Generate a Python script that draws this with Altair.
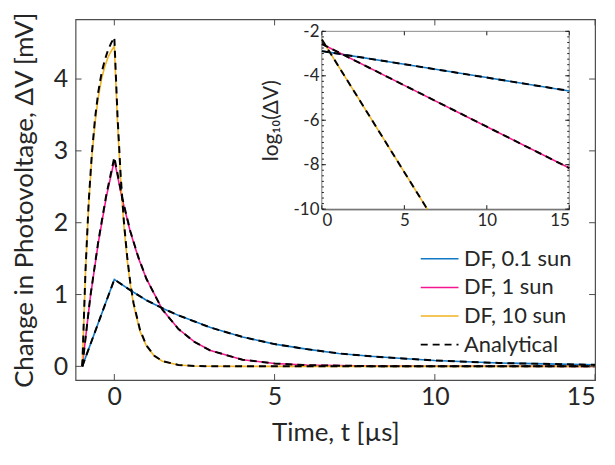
import altair as alt
import pandas as pd

# ---------------- main plot data ----------------
t_rise_01 = [-1.0, 0.0]
v_rise_01 = [0.0, 1.21]

t_rise_1 = [-1.0, -0.75, -0.5, -0.25, 0.0]
v_rise_1_df = [0.0, 0.96, 1.72, 2.36, 2.87]
v_rise_1_an = [0.0, 0.97, 1.74, 2.39, 2.91]

t_rise_10 = [-1.0, -0.9, -0.8, -0.7, -0.6, -0.5, -0.4, -0.3, -0.2, -0.1, 0.0]
v_rise_10_df = [0.0, 1.31, 2.25, 2.92, 3.40, 3.75, 4.00, 4.17, 4.30, 4.39, 4.46]
v_rise_10_an = [0.0, 1.33, 2.29, 2.97, 3.46, 3.82, 4.08, 4.26, 4.40, 4.50, 4.58]

t_dec_01 = [0.5, 1, 1.5, 2, 3, 4, 5, 6, 7, 8, 9, 10, 12, 15]
v_dec_01 = [1.06, 0.92, 0.81, 0.71, 0.54, 0.41, 0.31, 0.24, 0.18, 0.14, 0.11, 0.081, 0.047, 0.021]

t_dec_1 = [0.25, 0.5, 0.75, 1, 1.5, 2, 2.5, 3, 4, 5, 6, 8, 10, 15]
v_dec_1_df = [2.32, 1.87, 1.51, 1.22, 0.79, 0.52, 0.34, 0.22, 0.093, 0.040, 0.017, 0.003, 0.001, 0.0]
v_dec_1_an = [2.34, 1.88, 1.52, 1.22, 0.79, 0.52, 0.34, 0.22, 0.093, 0.040, 0.017, 0.003, 0.001, 0.0]

t_dec_10 = [0.1, 0.2, 0.3, 0.4, 0.5, 0.6, 0.8, 1.0, 1.25, 1.5, 2, 2.5, 3, 4, 15]
v_dec_10_df = [3.39, 2.57, 1.95, 1.49, 1.13, 0.86, 0.49, 0.285, 0.143, 0.072, 0.018, 0.005, 0.001, 0.0, 0.0]
v_dec_10_an = [3.48, 2.64, 2.01, 1.53, 1.16, 0.88, 0.51, 0.293, 0.147, 0.074, 0.019, 0.005, 0.001, 0.0, 0.0]

# ---------------- inset data: log10(dV) ----------------
inset_t = [0, 5, 10, 15]
inset_01 = [-2.89, -3.48, -4.08, -4.68]
inset_1 = [-2.57, -4.43, -6.29, -8.15]
inset_t_10 = [0, 3, 6.39]
inset_10 = [-2.37, -5.95, -10.0]

df_labels = ["DF, 0.1 sun", "DF, 1 sun", "DF, 10 sun"]
df_colors = ["#1079C6", "#F5158F", "#F0B323"]
an_label = "Analytical"

main_xticks = [0, 5, 10, 15]
main_yticks = [0, 1, 2, 3, 4]
inset_xticks = [0, 5, 10, 15]
inset_yticks = [-10, -8, -6, -4, -2]
inset_minor = [-10 + 0.25 * i for i in range(33)]


def series(ts, vs, curve, legend):
    return pd.DataFrame({"t": ts, "v": vs, "curve": curve, "legend": legend})


L01, L1, L10 = df_labels
LA = an_label
main_df = pd.concat([
    series(t_rise_01 + t_dec_01, v_rise_01 + v_dec_01, "c01", L01),
    series(t_rise_1 + t_dec_1, v_rise_1_df + v_dec_1_df, "c1", L1),
    series(t_rise_10 + t_dec_10, v_rise_10_df + v_dec_10_df, "c10", L10),
])
main_an = pd.concat([
    series(t_rise_01 + t_dec_01, v_rise_01 + v_dec_01, "c01", LA),
    series(t_rise_1 + t_dec_1, v_rise_1_an + v_dec_1_an, "c1", LA),
    series(t_rise_10 + t_dec_10, v_rise_10_an + v_dec_10_an, "c10", LA),
])
inset_df = pd.concat([
    series(inset_t, inset_01, "c01", L01),
    series(inset_t, inset_1, "c1", L1),
    series(inset_t_10, inset_10, "c10", L10),
])
inset_an = pd.concat([
    series(inset_t, inset_01, "c01", LA),
    series(inset_t, inset_1, "c1", LA),
    series(inset_t_10, inset_10, "c10", LA),
])

W, H = 523, 363
IX0, IX1, IY0, IY1 = 248, 497, 12, 191
axc = "#4d4d4d"
txt = "#262626"
FONT = "Lato"
LEG_X, LEG_Y, ROW = 355.5, 230, 28.8

xs_main = alt.Scale(domain=[-1.21, 15], nice=False, zero=False)
ys_main = alt.Scale(domain=[-0.19, 4.83], nice=False, zero=False)
xs_in = alt.Scale(domain=[0, 15], range=[IX0, IX1], nice=False, zero=False)
ys_in = alt.Scale(domain=[-10, -2], range=[IY1, IY0], nice=False, zero=False)

color_scale = alt.Scale(domain=df_labels, range=df_colors)
dash_scale = alt.Scale(domain=[an_label], range=[[7, 5]])
leg_common = dict(
    title=None, orient="none", legendX=LEG_X, labelFontSize=22,
    labelFont=FONT, labelColor=txt, symbolType="M-2,0L2,0", symbolSize=361,
    symbolStrokeWidth=1.6, rowPadding=6.8, labelOffset=13.5, padding=0,
)
leg_color = alt.Legend(legendY=LEG_Y, **leg_common)
leg_dash = alt.Legend(legendY=LEG_Y + 3 * ROW, symbolStrokeColor="black", **leg_common)

main_lines = alt.Chart(main_df).mark_line(strokeWidth=1.6, clip=True).encode(
    x=alt.X("t:Q", scale=xs_main, axis=alt.Axis(
        orient="bottom", title="Time, t [µs]", values=main_xticks, ticks=False,
        domain=False, grid=False, labelPadding=5, titlePadding=10,
        labelFontSize=25, titleFontSize=26)),
    y=alt.Y("v:Q", scale=ys_main, axis=alt.Axis(
        orient="left", title="Change in Photovoltage, ΔV [mV]", values=main_yticks,
        ticks=False, domain=False, grid=False, labelPadding=8, titlePadding=16,
        labelFontSize=25, titleFontSize=26)),
    color=alt.Color("legend:N", scale=color_scale, legend=leg_color),
    detail="curve:N",
)
main_dash = alt.Chart(main_an).mark_line(strokeWidth=2, color="black", clip=True).encode(
    x=alt.X("t:Q", scale=xs_main, axis=None),
    y=alt.Y("v:Q", scale=ys_main, axis=None),
    strokeDash=alt.StrokeDash("legend:N", scale=dash_scale, legend=leg_dash),
    detail="curve:N",
)

xt = pd.DataFrame({"tick": main_xticks})
yt = pd.DataFrame({"tick": main_yticks})
tb = alt.Chart(xt).mark_rule(color=axc, strokeWidth=1).encode(
    x=alt.X("tick:Q", scale=xs_main, axis=None), y=alt.value(H), y2=alt.value(H - 6))
tt = alt.Chart(xt).mark_rule(color=axc, strokeWidth=1).encode(
    x=alt.X("tick:Q", scale=xs_main, axis=None), y=alt.value(0), y2=alt.value(6))
tl = alt.Chart(yt).mark_rule(color=axc, strokeWidth=1).encode(
    y=alt.Y("tick:Q", scale=ys_main, axis=None), x=alt.value(0), x2=alt.value(6))
tr = alt.Chart(yt).mark_rule(color=axc, strokeWidth=1).encode(
    y=alt.Y("tick:Q", scale=ys_main, axis=None), x=alt.value(W), x2=alt.value(W - 6))

box_df = pd.DataFrame({"x0": [inset_xticks[0]], "x1": [inset_xticks[-1]],
                       "y0": [inset_yticks[0]], "y1": [inset_yticks[-1]]})
inset_box = alt.Chart(box_df).mark_rect(fill="white", stroke="#8a8a8a", strokeWidth=1).encode(
    x=alt.X("x0:Q", scale=xs_in, axis=None), x2="x1:Q",
    y=alt.Y("y0:Q", scale=ys_in, axis=None), y2="y1:Q",
)

inset_lines = alt.Chart(inset_df).mark_line(strokeWidth=1.6).encode(
    x=alt.X("t:Q", scale=xs_in, axis=alt.Axis(
        orient="bottom", offset=-(H - IY1), values=inset_xticks, ticks=False,
        domain=True, domainColor="#1a1a1a", domainWidth=1.3, grid=False, title=None,
        labelFontSize=17, labelPadding=3)),
    y=alt.Y("v:Q", scale=ys_in, axis=alt.Axis(
        orient="left", offset=-IX0, values=inset_yticks, ticks=False,
        domain=True, domainColor="#1a1a1a", domainWidth=1.3, grid=False,
        title="log₁₀(ΔV)", titleFontSize=21, titlePadding=12,
        labelFontSize=17, labelPadding=3,
        labelExpr="replace(datum.label, '−', '-')")),
    color=alt.Color("legend:N", scale=color_scale, legend=leg_color),
    detail="curve:N",
)
inset_dash = alt.Chart(inset_an).mark_line(strokeWidth=2, color="black").encode(
    x=alt.X("t:Q", scale=xs_in, axis=None),
    y=alt.Y("v:Q", scale=ys_in, axis=None),
    strokeDash=alt.StrokeDash("legend:N", scale=dash_scale, legend=leg_dash),
    detail="curve:N",
)

ixt = pd.DataFrame({"tick": inset_xticks})
iyt = pd.DataFrame({"tick": inset_yticks})
imn = pd.DataFrame({"tick": inset_minor})
itb = alt.Chart(ixt).mark_rule(color="#1a1a1a").encode(
    x=alt.X("tick:Q", scale=xs_in, axis=None), y=alt.value(IY1), y2=alt.value(IY1 - 4))
itt = alt.Chart(ixt).mark_rule(color="#1a1a1a").encode(
    x=alt.X("tick:Q", scale=xs_in, axis=None), y=alt.value(IY0), y2=alt.value(IY0 + 4))
itl = alt.Chart(iyt).mark_rule(color="#1a1a1a").encode(
    y=alt.Y("tick:Q", scale=ys_in, axis=None), x=alt.value(IX0), x2=alt.value(IX0 + 4))
itr = alt.Chart(iyt).mark_rule(color="#1a1a1a").encode(
    y=alt.Y("tick:Q", scale=ys_in, axis=None), x=alt.value(IX1), x2=alt.value(IX1 - 4))
iml = alt.Chart(imn).mark_rule(color="#1a1a1a").encode(
    y=alt.Y("tick:Q", scale=ys_in, axis=None), x=alt.value(IX0), x2=alt.value(IX0 + 2))
imr = alt.Chart(imn).mark_rule(color="#1a1a1a").encode(
    y=alt.Y("tick:Q", scale=ys_in, axis=None), x=alt.value(IX1), x2=alt.value(IX1 - 2))

chart = alt.layer(
    main_lines, main_dash, tb, tt, tl, tr,
    inset_box, inset_lines, inset_dash, itb, itt, itl, itr, iml, imr,
).resolve_scale(x="independent", y="independent").properties(
    width=W, height=H,
    autosize=alt.AutoSizeParams(type="none"),
    padding={"left": 68, "top": 10, "right": 12, "bottom": 76},
).configure_view(stroke=axc, strokeWidth=1.2).configure_axis(
    labelFont=FONT, titleFont=FONT, labelColor=txt, titleColor=txt,
    titleFontWeight="normal",
)

chart.save("out.html", embed_options={"renderer": "svg", "actions": False})
